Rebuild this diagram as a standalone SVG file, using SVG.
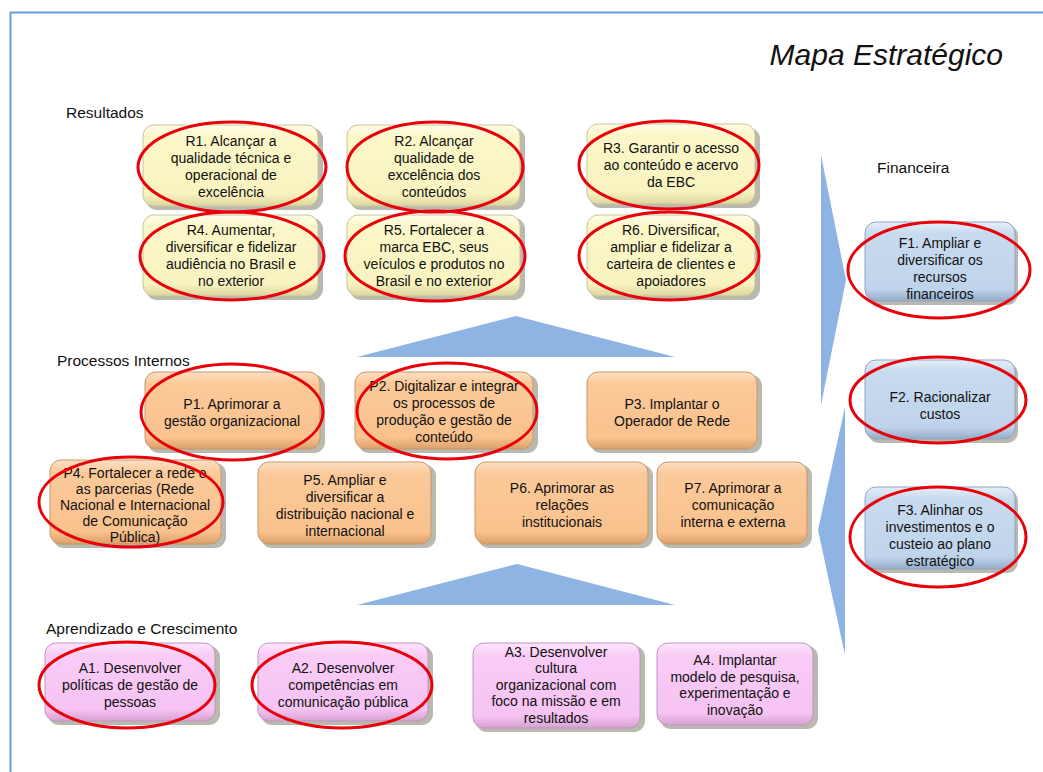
<svg xmlns="http://www.w3.org/2000/svg" width="1043" height="772" viewBox="0 0 1043 772">
<style>
text{font-family:"Liberation Sans",Arial,sans-serif;fill:#111}
.t{font-size:14px;text-anchor:middle}
.h{font-size:15.5px}
.sh{fill:#8a8a7a;opacity:0.6}
.r{fill:url(#gy);stroke:#c9c39a;stroke-width:1}
.p{fill:url(#go);stroke:#c9966a;stroke-width:1}
.a{fill:url(#gp);stroke:#c095c0;stroke-width:1}
.f{fill:url(#gb);stroke:#8fa5c0;stroke-width:1}
.e{fill:none;stroke:#e8000b;stroke-width:3}
.tri{fill:#8eb4e3}
</style>
<defs>
<linearGradient id="gy" x1="0" y1="0" x2="0" y2="1"><stop offset="0" stop-color="#fffde6"/><stop offset="0.15" stop-color="#fbf7c9"/><stop offset="0.85" stop-color="#f8f3bf"/><stop offset="1" stop-color="#dcd6a0"/></linearGradient>
<linearGradient id="go" x1="0" y1="0" x2="0" y2="1"><stop offset="0" stop-color="#fde0c4"/><stop offset="0.15" stop-color="#fbc999"/><stop offset="0.85" stop-color="#f9c28e"/><stop offset="1" stop-color="#d9a06a"/></linearGradient>
<linearGradient id="gp" x1="0" y1="0" x2="0" y2="1"><stop offset="0" stop-color="#fde6fc"/><stop offset="0.15" stop-color="#f9ccf6"/><stop offset="0.85" stop-color="#f6c3f3"/><stop offset="1" stop-color="#d5a2d2"/></linearGradient>
<linearGradient id="gb" x1="0" y1="0" x2="0" y2="1"><stop offset="0" stop-color="#e4eef9"/><stop offset="0.15" stop-color="#c8daee"/><stop offset="0.85" stop-color="#bfd4eb"/><stop offset="1" stop-color="#95abc8"/></linearGradient>
</defs>
<rect x="10.5" y="12.5" width="1100" height="800" fill="none" stroke="#6a9be0" stroke-width="2"/>
<text x="1003" y="65" style="font-size:30px;font-style:italic;text-anchor:end">Mapa Estratégico</text>
<text class="h" x="66" y="118">Resultados</text>
<text class="h" x="57" y="366">Processos Internos</text>
<text class="h" x="46" y="634">Aprendizado e Crescimento</text>
<text class="h" x="877" y="173">Financeira</text>

<g id="connectors">
<polygon class="tri" points="357,357 516,316 675,357"/>
<polygon class="tri" points="357,605 517,564 675,605"/>
<polygon class="tri" points="821,155 846,280 821,405"/>
<polygon class="tri" points="845,407 818,530 845,655"/>
</g>

<g id="R1"><rect class="sh" x="146" y="128" width="177" height="82" rx="11"/><rect class="r" x="143" y="125" width="175" height="81" rx="11"/>
<text class="t" x="231" y="146">R1. Alcançar a</text><text class="t" x="231" y="163">qualidade técnica e</text><text class="t" x="231" y="180">operacional de</text><text class="t" x="231" y="197">excelência</text>
<ellipse class="e" cx="232" cy="167" rx="94" ry="45"/></g>
<g id="R2"><rect class="sh" x="350" y="128" width="175" height="82" rx="11"/><rect class="r" x="347" y="125" width="173" height="81" rx="11"/>
<text class="t" x="434" y="146">R2. Alcançar</text><text class="t" x="434" y="163">qualidade de</text><text class="t" x="434" y="180">excelência dos</text><text class="t" x="434" y="197">conteúdos</text>
<ellipse class="e" cx="435" cy="167" rx="88" ry="45"/></g>
<g id="R3"><rect class="sh" x="590" y="128" width="170" height="80" rx="11"/><rect class="r" x="587" y="124" width="168" height="80" rx="11"/>
<text class="t" x="671" y="153">R3. Garantir o acesso</text><text class="t" x="671" y="170">ao conteúdo e acervo</text><text class="t" x="671" y="187">da EBC</text>
<ellipse class="e" cx="669" cy="165" rx="90" ry="44"/></g>

<g id="R4"><rect class="sh" x="146" y="218" width="177" height="82" rx="11"/><rect class="r" x="143" y="215" width="175" height="81" rx="11"/>
<text class="t" x="231" y="235">R4. Aumentar,</text><text class="t" x="231" y="252">diversificar e fidelizar</text><text class="t" x="231" y="269">audiência no Brasil e</text><text class="t" x="231" y="286">no exterior</text>
<ellipse class="e" cx="232" cy="256" rx="92" ry="44"/></g>
<g id="R5"><rect class="sh" x="350" y="218" width="175" height="82" rx="11"/><rect class="r" x="347" y="215" width="173" height="81" rx="11"/>
<text class="t" x="434" y="235">R5. Fortalecer a</text><text class="t" x="434" y="252">marca EBC, seus</text><text class="t" x="434" y="269">veículos e produtos no</text><text class="t" x="434" y="286">Brasil e no exterior</text>
<ellipse class="e" cx="435" cy="256" rx="90" ry="45"/></g>
<g id="R6"><rect class="sh" x="590" y="218" width="170" height="82" rx="11"/><rect class="r" x="587" y="215" width="168" height="81" rx="11"/>
<text class="t" x="671" y="235">R6. Diversificar,</text><text class="t" x="671" y="252">ampliar e fidelizar a</text><text class="t" x="671" y="269">carteira de clientes e</text><text class="t" x="671" y="286">apoiadores</text>
<ellipse class="e" cx="669" cy="256" rx="90" ry="44"/></g>

<g id="P1"><rect class="sh" x="148" y="375" width="177" height="78" rx="11"/><rect class="p" x="145" y="372" width="175" height="77" rx="11"/>
<text class="t" x="232" y="409">P1. Aprimorar a</text><text class="t" x="232" y="426">gestão organizacional</text>
<ellipse class="e" cx="232" cy="412" rx="91" ry="48"/></g>
<g id="P2"><rect class="sh" x="358" y="375" width="180" height="78" rx="11"/><rect class="p" x="355" y="372" width="178" height="77" rx="11"/>
<text class="t" x="444" y="391">P2. Digitalizar e integrar</text><text class="t" x="444" y="408">os processos de</text><text class="t" x="444" y="425">produção e gestão de</text><text class="t" x="444" y="442">conteúdo</text>
<ellipse class="e" cx="447" cy="411" rx="90" ry="48"/></g>
<g id="P3"><rect class="sh" x="590" y="375" width="172" height="78" rx="11"/><rect class="p" x="587" y="372" width="170" height="77" rx="11"/>
<text class="t" x="672" y="409">P3. Implantar o</text><text class="t" x="672" y="426">Operador de Rede</text></g>

<g id="P4"><rect class="sh" x="53" y="463" width="173" height="85" rx="11"/><rect class="p" x="50" y="460" width="171" height="84" rx="11"/>
<text class="t" x="135" y="478">P4. Fortalecer a rede e</text><text class="t" x="135" y="494">as parcerias (Rede</text><text class="t" x="135" y="510">Nacional e Internacional</text><text class="t" x="135" y="526">de Comunicação</text><text class="t" x="135" y="542">Pública)</text>
<ellipse class="e" cx="131" cy="502" rx="92" ry="45"/></g>
<g id="P5"><rect class="sh" x="261" y="465" width="175" height="83" rx="11"/><rect class="p" x="258" y="462" width="173" height="82" rx="11"/>
<text class="t" x="345" y="485">P5. Ampliar e</text><text class="t" x="345" y="502">diversificar a</text><text class="t" x="345" y="519">distribuição nacional e</text><text class="t" x="345" y="536">internacional</text></g>
<g id="P6"><rect class="sh" x="478" y="465" width="175" height="83" rx="11"/><rect class="p" x="475" y="462" width="173" height="82" rx="11"/>
<text class="t" x="562" y="493">P6. Aprimorar as</text><text class="t" x="562" y="510">relações</text><text class="t" x="562" y="527">institucionais</text></g>
<g id="P7"><rect class="sh" x="660" y="465" width="152" height="83" rx="11"/><rect class="p" x="657" y="462" width="150" height="82" rx="11"/>
<text class="t" x="733" y="493">P7. Aprimorar a</text><text class="t" x="733" y="510">comunicação</text><text class="t" x="733" y="527">interna e externa</text></g>

<g id="A1"><rect class="sh" x="48" y="646" width="172" height="79" rx="11"/><rect class="a" x="45" y="643" width="170" height="78" rx="11"/>
<text class="t" x="130" y="673">A1. Desenvolver</text><text class="t" x="130" y="690">políticas de gestão de</text><text class="t" x="130" y="707">pessoas</text>
<ellipse class="e" cx="127" cy="685" rx="88" ry="43"/></g>
<g id="A2"><rect class="sh" x="261" y="646" width="172" height="79" rx="11"/><rect class="a" x="258" y="643" width="170" height="78" rx="11"/>
<text class="t" x="343" y="673">A2. Desenvolver</text><text class="t" x="343" y="690">competências em</text><text class="t" x="343" y="707">comunicação pública</text>
<ellipse class="e" cx="342" cy="685" rx="90" ry="43"/></g>
<g id="A3"><rect class="sh" x="476" y="646" width="169" height="86" rx="11"/><rect class="a" x="473" y="643" width="167" height="85" rx="11"/>
<text class="t" x="556" y="657">A3. Desenvolver</text><text class="t" x="556" y="673">cultura</text><text class="t" x="556" y="690">organizacional com</text><text class="t" x="556" y="706">foco na missão e em</text><text class="t" x="556" y="723">resultados</text></g>
<g id="A4"><rect class="sh" x="660" y="646" width="158" height="83" rx="11"/><rect class="a" x="657" y="643" width="156" height="82" rx="11"/>
<text class="t" x="735" y="665">A4. Implantar</text><text class="t" x="735" y="682">modelo de pesquisa,</text><text class="t" x="735" y="698">experimentação e</text><text class="t" x="735" y="715">inovação</text></g>

<g id="F1"><rect class="sh" x="868" y="225" width="150" height="80" rx="11"/><rect class="f" x="865" y="222" width="150" height="79" rx="11"/>
<text class="t" x="940" y="248">F1. Ampliar e</text><text class="t" x="940" y="265">diversificar os</text><text class="t" x="940" y="282">recursos</text><text class="t" x="940" y="299">financeiros</text>
<ellipse class="e" cx="939" cy="270" rx="91" ry="48"/></g>
<g id="F2"><rect class="sh" x="868" y="363" width="150" height="80" rx="11"/><rect class="f" x="865" y="360" width="150" height="79" rx="11"/>
<text class="t" x="940" y="402">F2. Racionalizar</text><text class="t" x="940" y="419">custos</text>
<ellipse class="e" cx="938" cy="400" rx="88" ry="43"/></g>
<g id="F3"><rect class="sh" x="868" y="490" width="150" height="83" rx="11"/><rect class="f" x="865" y="487" width="150" height="82" rx="11"/>
<text class="t" x="940" y="515">F3. Alinhar os</text><text class="t" x="940" y="532">investimentos e o</text><text class="t" x="940" y="549">custeio ao plano</text><text class="t" x="940" y="566">estratégico</text>
<ellipse class="e" cx="938" cy="537" rx="88" ry="50"/></g>
</svg>
